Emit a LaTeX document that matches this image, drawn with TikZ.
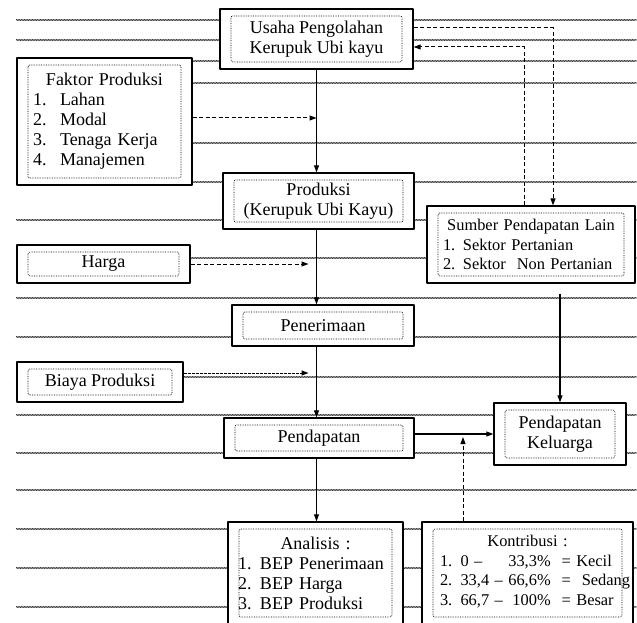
\documentclass[tikz,border=0pt]{standalone}
\usepackage{fontspec}
\setmainfont{Liberation Serif}
\usetikzlibrary{arrows.meta,calc,decorations.pathmorphing}

\begin{document}
\begin{tikzpicture}[x=1pt,y=-1pt,>={Triangle[length=7pt,width=5pt]},line join=round,
    font=\fontsize{18}{20}\selectfont,
    ruled/.style={black!80,line width=0.6pt,decorate,decoration={snake,amplitude=0.6pt,segment length=1.6pt}},
    box/.style={draw,fill=white,line width=1.3pt,inner sep=0pt,
      path picture={\draw[line width=0.7pt,densely dotted,rounded corners=2pt]
        ([shift={(11pt,-7pt)}]path picture bounding box.north west) rectangle
        ([shift={(-11pt,7pt)}]path picture bounding box.south east);}},
    smalltext/.style={font=\fontsize{16.4}{19.5}\selectfont},
    link/.style={line width=1.1pt},
    dlink/.style={line width=1pt,dash pattern=on 4pt off 2.5pt}]
  \useasboundingbox (0,0) rectangle (637,623);
  \clip (0,0) rectangle (637,623);
  \fill[white] (0,0) rectangle (637,623);
  % ruled background
  \foreach \y in {20,40,61,83,143,182,220,258,298,337,377,415,453,490,529,568,607}
    \draw[ruled] (16,\y)--(637,\y);
  % boxes
  \node[box,minimum width=193pt,minimum height=60pt,align=center] (usaha) at (316.5,39)
    {Usaha Pengolahan\\Kerupuk Ubi kayu};
  \node[box,minimum width=175pt,minimum height=127pt,text width=143pt,align=left] (faktor) at (104.5,121.5)
    {\makebox[\linewidth]{Faktor Produksi}\\
     \makebox[27pt][l]{1.}Lahan\\
     \makebox[27pt][l]{2.}Modal\\
     \makebox[27pt][l]{3.}Tenaga Kerja\\
     \makebox[27pt][l]{4.}Manajemen};
  \node[box,minimum width=191pt,minimum height=56pt,align=center] (produksi) at (318.5,201)
    {Produksi\\(Kerupuk Ubi Kayu)};
  \node[box,smalltext,minimum width=208pt,minimum height=77pt,text width=176pt,align=left] (sumber) at (531,244.5)
    {\makebox[\linewidth]{Sumber Pendapatan Lain}\\
     \makebox[20pt][l]{1.}Sektor Pertanian\\
     \makebox[20pt][l]{2.}Sektor\ \ Non Pertanian};
  \node[box,minimum width=173pt,minimum height=38pt] (harga) at (103.5,264) {Harga};
  \node[box,minimum width=182pt,minimum height=41pt] (terima) at (323,325.5) {Penerimaan};
  \node[box,minimum width=166pt,minimum height=40pt] (biaya) at (100,382) {Biaya Produksi};
  \node[box,minimum width=190pt,minimum height=40pt] (dapat) at (319,438) {Pendapatan};
  \node[box,minimum width=132pt,minimum height=62pt,align=center] (keluarga) at (560,434)
    {Pendapatan\\Keluarga};
  \node[box,minimum width=175pt,minimum height=102pt,text width=155pt,align=left] (analisis) at (315.5,573)
    {\makebox[\linewidth]{Analisis :}\\
     \makebox[22pt][l]{1.}BEP Penerimaan\\
     \makebox[22pt][l]{2.}BEP Harga\\
     \makebox[22pt][l]{3.}BEP Produksi};
  \node[box,smalltext,minimum width=211pt,minimum height=102pt,text width=175pt,align=left] (kontribusi) at (527.5,573)
    {\makebox[\linewidth]{Kontribusi :}\\
     \begin{tabular}[t]{@{}l@{ }l@{ }r@{\ \ }l@{}}
       1. & 0 -- & 33,3\% & = Kecil\\
       2. & 33,4 -- & 66,6\% & =\ \ Sedang\\
       3. & 66,7 -- & 100\% & = Besar
     \end{tabular}};
  % main flow
  \draw[link,->] (usaha.south)--(usaha.south |- produksi.north);
  \draw[link,->] (usaha.south |- produksi.south)--(usaha.south |- terima.north);
  \draw[link,->] (usaha.south |- terima.south)--(usaha.south |- dapat.north);
  \draw[link,->] (usaha.south |- dapat.south)--(usaha.south |- analisis.north);
  \draw[link,->] (dapat.east |- keluarga.west)--(keluarga.west);
  \draw[link,->] ($(keluarga.north |- sumber.south)+(0,10)$)--(keluarga.north);
  % inputs
  \draw[dlink,->] ([yshift=3.5pt]faktor.east)--($(faktor.east -| usaha.south)+(0,-3.5)$);
  \draw[dlink,->] (harga.east)--($(harga.east -| usaha.south)+(-8,0)$);
  \draw[dlink,dash pattern=on 3pt off 1pt,->] ([yshift=9pt]biaya.east)--($(biaya.east -| usaha.south)+(-8,-9)$);
  \draw[dlink,->] ($(kontribusi.north)+(-64.5,0)$)--($(kontribusi.north |- keluarga.west)+(-64.5,3)$);
  % other income
  \draw[dlink,->] ([yshift=11pt]usaha.east) -| ([xshift=22pt]sumber.north);
  \draw[dlink,->] ([xshift=-7pt]sumber.north) |- ([yshift=-8pt]usaha.east);
\end{tikzpicture}
\end{document}
